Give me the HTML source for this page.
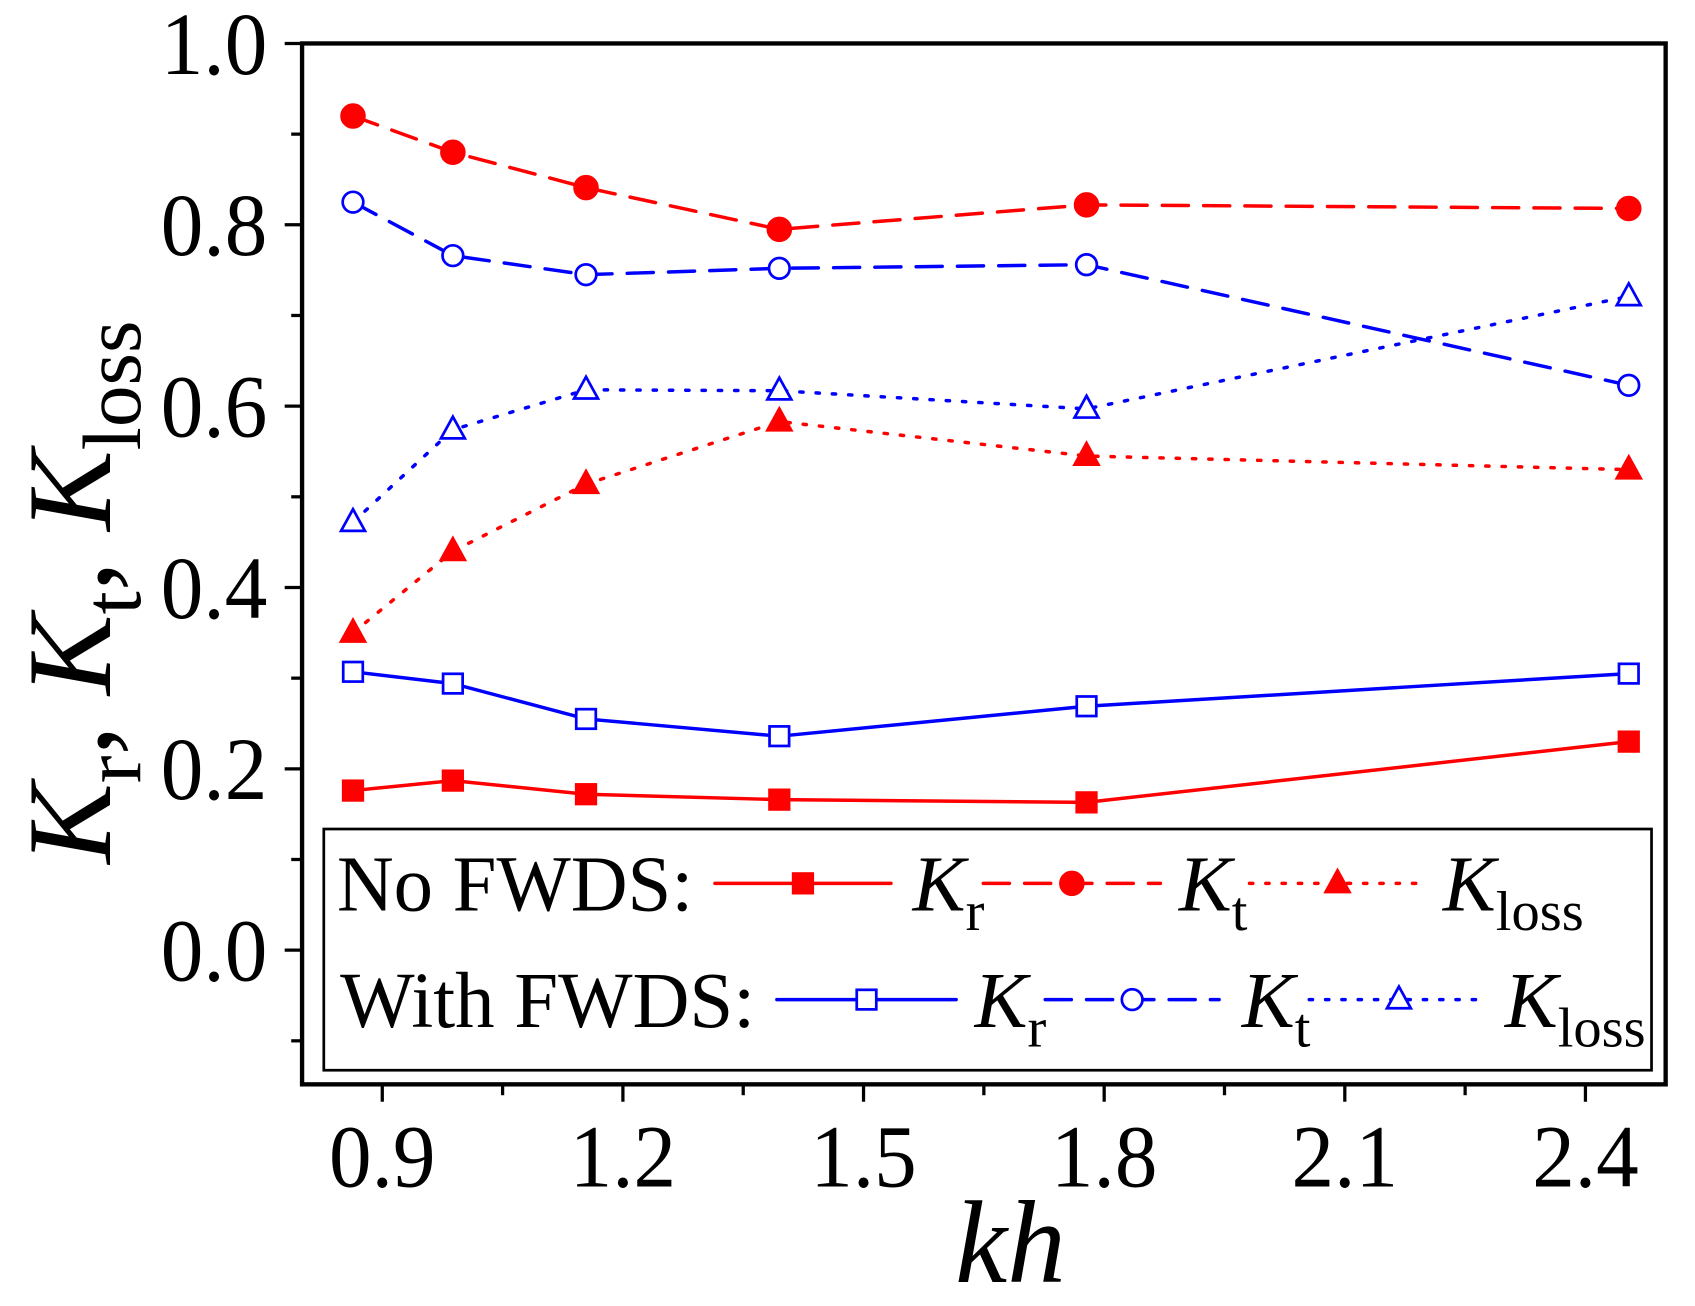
<!DOCTYPE html>
<html><head><meta charset="utf-8"><style>html,body{margin:0;padding:0;background:#fff}svg{display:block}</style></head>
<body>
<svg id="chart" width="1695" height="1306" viewBox="0 0 1560 1202" xmlns="http://www.w3.org/2000/svg" font-family="'Liberation Serif', serif">
<g id="plot"></g>
</svg>
<script>
const kh = [0.8635, 0.988, 1.154, 1.395, 1.778, 2.454];
const krNo = [0.176, 0.187, 0.172, 0.166, 0.163, 0.230];
const ktNo = [0.920, 0.880, 0.841, 0.795, 0.822, 0.818];
const klNo = [0.350, 0.440, 0.514, 0.583, 0.545, 0.530];
const krW = [0.307, 0.294, 0.255, 0.236, 0.269, 0.305];
const ktW = [0.825, 0.766, 0.745, 0.752, 0.756, 0.623];
const klW = [0.472, 0.574, 0.618, 0.617, 0.597, 0.721];
const xTicks = ["0.9","1.2","1.5","1.8","2.1","2.4"];
const yTicks = ["0.0","0.2","0.4","0.6","0.8","1.0"];

const NS="http://www.w3.org/2000/svg";
const L=278,R=1533,T=40,B=998, XMIN=0.8,XMAX=2.5,YMIN=-0.148,YMAX=1.0;
const sx=v=>L+(v-XMIN)/(XMAX-XMIN)*(R-L);
const sy=v=>B-(v-YMIN)/(YMAX-YMIN)*(B-T);
const g=document.getElementById('plot');
function mk(tag,attrs,parent){const e=document.createElementNS(NS,tag);for(const k in attrs)e.setAttribute(k,attrs[k]);(parent||g).appendChild(e);return e;}

let fr=mk('rect',{x:L,y:T,width:R-L,height:B-T,fill:'none',stroke:'#000','stroke-width':4});



for(let i=0;i<=11;i++){const v=0.75+i*0.15; if(v<XMIN||v>XMAX)continue;const x=sx(v);const major=Math.abs((v*10)%3)<0.01||Math.abs((v*10)%3-3)<0.01;
 let t=mk('line',{x1:x,x2:x,y1:B,y2:B+(major?16:10),stroke:'#000','stroke-width':3});
 
 }
xTicks.forEach(s=>{const x=sx(parseFloat(s));let t=mk('text',{x:x,y:1092,'font-size':82,'text-anchor':'middle',textLength:98,lengthAdjust:'spacingAndGlyphs'});t.textContent=s;
 
 });
for(let i=-1;i<=10;i++){const v=i/10;const y=sy(v);const major=i%2===0;
 let t=mk('line',{x1:L,x2:L-(major?16:10),y1:y,y2:y,stroke:'#000','stroke-width':3});
 
 }
yTicks.forEach(s=>{const y=sy(parseFloat(s));let t=mk('text',{x:246,y:y+28,'font-size':82,'text-anchor':'end',textLength:98,lengthAdjust:'spacingAndGlyphs'});t.textContent=s;
 
 });

let xt=mk('text',{x:930,y:1180,'font-size':108,'font-style':'italic','text-anchor':'middle'});xt.textContent='kh';


let yt=mk('text',{transform:'translate(101,795) rotate(-90)','font-size':110,textLength:500,lengthAdjust:'spacingAndGlyphs'});


yt.innerHTML='<tspan font-style="italic">K</tspan><tspan font-size="76" dy="28">r</tspan><tspan dy="-28">, </tspan><tspan font-style="italic">K</tspan><tspan font-size="76" dy="28">t</tspan><tspan dy="-28">, </tspan><tspan font-style="italic">K</tspan><tspan font-size="76" dy="28">loss</tspan>';

const RED='#ff0000',BLUE='#0000ff';
function marker(type,color,filled,x,y,parent,name){let m;const f=filled?color:'#fff';
 if(type==='sq') m=mk('rect',{x:x-9,y:y-9,width:18,height:18,fill:f,stroke:color,'stroke-width':2.5},parent);
 else if(type==='ci') m=mk('circle',{cx:x,cy:y,r:filled?10.5:9.5,fill:f,stroke:color,'stroke-width':2.5},parent);
 else m=mk('polygon',{points:`${x},${y-12} ${x+11},${y+8} ${x-11},${y+8}`,fill:f,stroke:color,'stroke-width':2.5},parent);
 
 }
const series=[
 {d:krNo,c:RED,f:true,m:'sq',dash:'',n:'no-fwds-kr'},
 {d:ktNo,c:RED,f:true,m:'ci',dash:'24 14',n:'no-fwds-kt'},
 {d:klNo,c:RED,f:true,m:'tr',dash:'3 12',n:'no-fwds-kloss'},
 {d:krW,c:BLUE,f:false,m:'sq',dash:'',n:'with-fwds-kr'},
 {d:ktW,c:BLUE,f:false,m:'ci',dash:'24 14',n:'with-fwds-kt'},
 {d:klW,c:BLUE,f:false,m:'tr',dash:'3 12',n:'with-fwds-kloss'}];
series.forEach(s=>{const sg=mk('g',{});
 
 
 const pts=s.d.map((v,i)=>sx(kh[i])+','+sy(v)).join(' ');
 const a={points:pts,fill:'none',stroke:s.c,'stroke-width':3.2,'stroke-linecap':'round'};if(s.dash)a['stroke-dasharray']=s.dash;
 const pl=mk('polyline',a,sg);
 
 
 s.d.forEach((v,i)=>marker(s.m,s.c,s.f,sx(kh[i]),sy(v),sg,s.n+'-point'));});

const lg=mk('g',{});


mk('rect',{x:298,y:763,width:1222,height:222,fill:'#fff',stroke:'#000','stroke-width':2.5},lg);
function lt(x,y,txt,name,w){const t=mk('text',{x:x,y:y,'font-size':73,textLength:w,lengthAdjust:'spacingAndGlyphs'},lg);t.textContent=txt;
 
 }
function lk(x,y,sub,name){const t=mk('text',{x:x,y:y,'font-size':73},lg);t.innerHTML='<tspan font-style="italic">K</tspan><tspan font-size="52" dy="18">'+sub+'</tspan>';
 
 }
function ll(x1,x2,y,s){const a={x1:x1,x2:x2,y1:y,y2:y,stroke:s.c,'stroke-width':3.2,'stroke-linecap':'round'};if(s.dash)a['stroke-dasharray']=s.dash;
 const l=mk('line',a,lg);
 
 
 marker(s.m,s.c,s.f,(x1+x2)/2,y,lg,s.n+'-legend-marker');}
lt(310,838,'No FWDS:','legend-no-fwds-label',328);
ll(658,820,813,series[0]);lk(840,838,'r','legend-kr');
ll(905,1068,813,series[1]);lk(1085,838,'t','legend-kt');
ll(1150,1312,813,series[2]);lk(1328,838,'loss','legend-kloss');
lt(313,945,'With FWDS:','legend-with-fwds-label',382);
ll(715,880,920,series[3]);lk(897,945,'r','legend-kr');
ll(962,1122,920,series[4]);lk(1143,945,'t','legend-kt');
ll(1205,1370,920,series[5]);lk(1385,945,'loss','legend-kloss');
</script>
</body></html>
